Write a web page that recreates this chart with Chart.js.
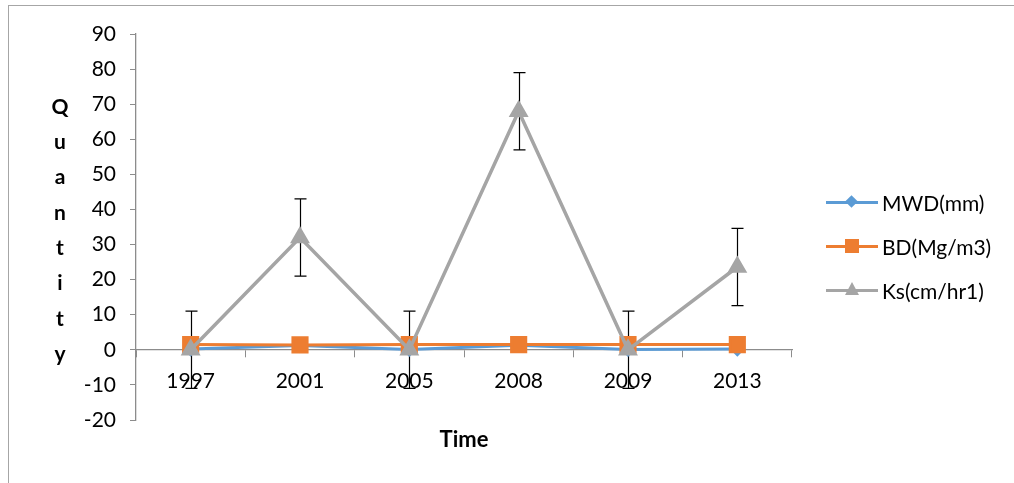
<!DOCTYPE html>
<html>
<head>
<meta charset="utf-8">
<script src="https://cdn.jsdelivr.net/npm/chart.js@4.4.1/dist/chart.umd.min.js"></script>
<style>
  body { margin: 0; background: #fff; font-family: Lato, "Open Sans", sans-serif; }
  #wrap { position: relative; width: 1014px; height: 483px; overflow: hidden; }
  #frame { position: absolute; left: 8px; top: 5px; width: 1100px; height: 600px;
           border-left: 1.5px solid #a6a6a6; border-top: 1.5px solid #a6a6a6; }
  #myChart { position: absolute; left: 0; top: 0; }
  .leg { position: absolute; left: 826px; height: 24px; display: flex; align-items: center;
         font-size: 21px; color: #000; }
  .leg .sym { position: relative; width: 52px; height: 24px; margin-right: 4px; }
  .leg .ln { position: absolute; left: 0; top: 10.5px; width: 52px; height: 3px; }
  .leg .mk { position: absolute; }
</style>
</head>
<body>
<div id="wrap">
  <div id="frame"></div>
  <canvas id="myChart" width="1014" height="483"></canvas>
  <div id="legenda"></div>
</div>
<script>
// dados do grafico
const anos = ['1997', '2001', '2005', '2008', '2009', '2013'];
const mwd = [0.2, 1.2, 0.1, 1.3, 0.1, 0.2];
const bd = [1.5, 1.4, 1.5, 1.5, 1.5, 1.5];
const ks = [0, 32, 0, 68, 0, 23.6];
const ksErro = [11, 11, 11, 11, 11, 11];
const nomes = ['MWD(mm)', 'BD(Mg/m3)', 'Ks(cm/hr1)'];
const cores = ['#5b9bd5', '#ed7d31', '#a5a5a5'];
const tituloY = 'Quantity';
const tituloX = 'Time';

// barras de erro do Ks
const barrasErro = {
    id: 'barrasErro',
    beforeDatasetsDraw(chart) {
        const ctx = chart.ctx;
        const x = chart.scales.x, y = chart.scales.y;
        ctx.save();
        ctx.strokeStyle = '#000';
        ctx.lineWidth = 1.2;
        ks.forEach((v, i) => {
            const px = Math.round(x.getPixelForValue(i)) + 0.5;
            const top = y.getPixelForValue(v + ksErro[i]);
            const bot = y.getPixelForValue(v - ksErro[i]);
            ctx.beginPath();
            ctx.moveTo(px, top); ctx.lineTo(px, bot);
            ctx.moveTo(px - 6, top); ctx.lineTo(px + 6, top);
            ctx.moveTo(px - 6, bot); ctx.lineTo(px + 6, bot);
            ctx.stroke();
        });
        ctx.restore();
    }
};

// titulos dos eixos
const titulos = {
    id: 'titulos',
    afterDraw(chart) {
        const ctx = chart.ctx;
        const area = chart.chartArea;
        ctx.save();
        ctx.fillStyle = '#000';
        ctx.font = 'bold 22px Lato, "Open Sans", sans-serif';
        ctx.textAlign = 'center';
        ctx.textBaseline = 'middle';
        ctx.fillText(tituloX, (area.left + area.right) / 2, 440);
        ctx.font = 'bold 21px Lato, "Open Sans", sans-serif';
        tituloY.split('').forEach((c, i) => {
            ctx.fillText(c, 60, 107 + i * 35.3);
        });
        ctx.restore();
    }
};

const Grafico = document.getElementById('myChart');
new Chart(Grafico, {
    type: 'line',
    data: {
        labels: anos,
        datasets: [{
            label: nomes[0],
            data: mwd,
            borderColor: cores[0],
            backgroundColor: cores[0],
            borderWidth: 3,
            pointStyle: 'rectRot',
            pointRadius: 5.5,
            order: 3
        }, {
            label: nomes[1],
            data: bd,
            borderColor: cores[1],
            backgroundColor: cores[1],
            borderWidth: 3,
            pointStyle: 'rect',
            pointRadius: 10,
            order: 2
        }, {
            label: nomes[2],
            data: ks,
            borderColor: cores[2],
            backgroundColor: cores[2],
            borderWidth: 3.5,
            pointStyle: 'triangle',
            pointRadius: 8,
            order: 1
        }]
    },
    options: {
        responsive: false,
        animation: false,
        layout: { padding: { left: 0, top: 34, right: 222, bottom: 63 } },
        plugins: { legend: { display: false }, tooltip: { enabled: false } },
        elements: { line: { tension: 0 }, point: { borderWidth: 1 } },
        scales: {
            x: {
                position: { y: 0 },
                offset: true,
                grid: { display: true, drawOnChartArea: false, offset: true, tickLength: 7, color: '#8c8c8c', tickColor: '#8c8c8c' },
                border: { color: '#8c8c8c', width: 1.3 },
                ticks: { color: '#000', padding: 12, font: { size: 21, family: 'Lato' } }
            },
            y: {
                min: -20,
                max: 90,
                afterFit(s) { s.width = 136; },
                grid: { display: true, drawOnChartArea: false, tickLength: 6, color: '#8c8c8c', tickColor: '#8c8c8c' },
                border: { color: '#8c8c8c', width: 1.3 },
                ticks: { stepSize: 10, color: '#000', padding: 14, font: { size: 21, family: 'Lato' } }
            }
        }
    },
    plugins: [barrasErro, titulos]
});

// legenda feita em html
const legenda = document.getElementById('legenda');
const topos = [202, 246, 290];
const marcas = [
    'left:21px;top:7px;width:9px;height:9px;transform:rotate(45deg);',
    'left:19px;top:5px;width:14px;height:14px;',
    'left:19px;top:4px;width:0;height:0;border-left:7px solid transparent;border-right:7px solid transparent;border-bottom:13px solid ' + cores[2] + ';'
];
nomes.forEach((n, i) => {
    const item = document.createElement('div');
    item.className = 'leg';
    item.style.top = (topos[i] - 12) + 'px';
    const bg = i === 2 ? 'background:transparent;' : 'background:' + cores[i] + ';';
    item.innerHTML = '<span class="sym"><span class="ln" style="background:' + cores[i] + '"></span>' +
        '<span class="mk" style="' + marcas[i] + bg + '"></span></span><span>' + n + '</span>';
    legenda.appendChild(item);
});
</script>
</body>
</html>
